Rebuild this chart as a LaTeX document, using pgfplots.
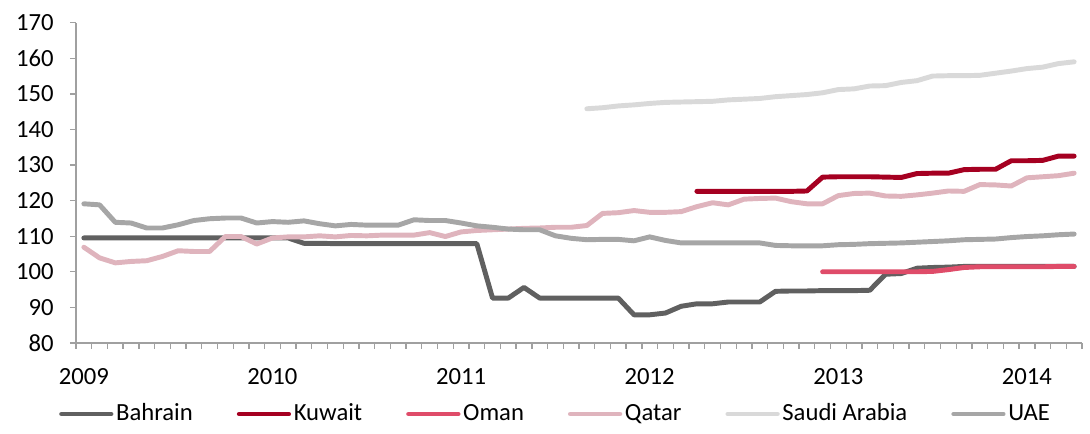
\documentclass[border=0pt]{standalone}
\usepackage{fontspec}
\setmainfont{Carlito}
\usepackage{pgfplots}
\pgfplotsset{compat=1.18}

\definecolor{axisgray}{HTML}{A0A0A0}
\definecolor{cBahrain}{HTML}{606060}
\definecolor{cKuwait}{HTML}{A50021}
\definecolor{cOman}{HTML}{DF4C69}
\definecolor{cQatar}{HTML}{DFB4BD}
\definecolor{cSaudi}{HTML}{D9D9D9}
\definecolor{cUAE}{HTML}{A6A6A6}

\begin{document}
\fontsize{18.5}{22}\selectfont
\begin{tikzpicture}
\path[use as bounding box] (-57pt,-68.25pt) rectangle (760.5pt,257.2pt);
\begin{axis}[
  scale only axis,
  width=754.5pt, height=240.2pt,
  xmin=-0.5, xmax=63.5,
  ymin=80, ymax=170,
  axis x line=bottom, axis y line=left,
  axis line style={-, draw=axisgray, line width=1.2pt},
  ytick={80,90,...,170},
  xtick={-0.5,0.5,...,63.5},
  xticklabels={},
  extra x ticks={0,12,24,36,48,60},
  extra x tick labels={2009,2010,2011,2012,2013,2014},
  extra x tick style={major tick length=0pt, xticklabel style={yshift=-13pt}},
  tick align=outside,
  major tick length=4.5pt,
  tick style={draw=axisgray, line width=1pt},
  /pgf/number format/assume math mode=true,
  yticklabel style={/pgf/number format/1000 sep={}, xshift=-6pt},
  every axis plot/.append style={line width=3.7pt, line cap=round, line join=round},
  legend columns=6,
  legend style={at={(0.477,-0.222)}, anchor=center, draw=none, fill=none,
    /tikz/every odd column/.append style={column sep=0pt},
    /tikz/every even column/.append style={column sep=31pt},
    nodes={inner xsep=2pt}},
  legend image code/.code={\draw[#1] (0pt,0pt) -- (37pt,0pt);},
]

% Bahrain
\addplot[cBahrain] coordinates {
  (0,109.5) (1,109.5) (2,109.5) (3,109.5) (4,109.5) (5,109.5) (6,109.5) (7,109.5)
  (8,109.5) (9,109.5) (10,109.5) (11,109.5) (12,109.5) (13,109.5)
  (14,108.0) (15,108.0) (16,107.9) (17,107.9) (18,107.9) (19,107.9) (20,107.9)
  (21,107.9) (22,107.9) (23,107.9) (24,107.9) (25,107.9)
  (26,92.6) (27,92.6) (28,95.6) (29,92.6) (30,92.6) (31,92.6) (32,92.6) (33,92.6) (34,92.6)
  (35,87.9) (36,87.9) (37,88.4) (38,90.3) (39,91.0) (40,91.0) (41,91.5) (42,91.5) (43,91.5)
  (44,94.5) (45,94.6) (46,94.6) (47,94.7) (48,94.7) (49,94.7) (50,94.8)
  (51,99.3) (52,99.5) (53,101.0) (54,101.2) (55,101.3) (56,101.5) (57,101.5) (58,101.5)
  (59,101.5) (60,101.5) (61,101.5) (62,101.5) (63,101.5)
};
\addlegendentry{Bahrain}

% Kuwait
\addplot[cKuwait] coordinates {
  (39,122.6) (40,122.6) (41,122.6) (42,122.6) (43,122.6) (44,122.6) (45,122.6) (46,122.7)
  (47,126.6) (48,126.7) (49,126.7) (50,126.7) (51,126.6) (52,126.5)
  (53,127.6) (54,127.7) (55,127.7) (56,128.7) (57,128.8) (58,128.8)
  (59,131.2) (60,131.2) (61,131.3) (62,132.5) (63,132.5)
};
\addlegendentry{Kuwait}

% Oman
\addplot[cOman] coordinates {
  (47,100.0) (48,100.0) (49,100.0) (50,100.0) (51,100.0) (52,100.0) (53,100.0) (54,100.1)
  (55,100.6) (56,101.2) (57,101.4) (58,101.4) (59,101.4) (60,101.4) (61,101.4) (62,101.5) (63,101.5)
};
\addlegendentry{Oman}

% Qatar
\addplot[cQatar] coordinates {
  (0,106.9) (1,103.9) (2,102.5) (3,102.9) (4,103.1) (5,104.3) (6,105.9) (7,105.7)
  (8,105.7) (9,109.9) (10,109.9) (11,107.8) (12,109.5) (13,109.8) (14,109.8) (15,110.1)
  (16,109.8) (17,110.2) (18,110.1) (19,110.3) (20,110.3) (21,110.3) (22,111.0) (23,109.9)
  (24,111.2) (25,111.6) (26,111.8) (27,112.0) (28,112.2) (29,112.3) (30,112.5) (31,112.5)
  (32,113.0) (33,116.4) (34,116.6) (35,117.2) (36,116.7) (37,116.7) (38,116.9) (39,118.3)
  (40,119.4) (41,118.8) (42,120.4) (43,120.6) (44,120.7) (45,119.7) (46,119.1) (47,119.1)
  (48,121.4) (49,122.0) (50,122.1) (51,121.3) (52,121.2) (53,121.6) (54,122.1) (55,122.7)
  (56,122.6) (57,124.5) (58,124.4) (59,124.1) (60,126.4) (61,126.7) (62,127.0) (63,127.7)
};
\addlegendentry{Qatar}

% Saudi Arabia
\addplot[cSaudi] coordinates {
  (32,145.8) (33,146.1) (34,146.6) (35,146.9) (36,147.3) (37,147.6) (38,147.7) (39,147.8)
  (40,147.9) (41,148.3) (42,148.5) (43,148.7) (44,149.2) (45,149.5) (46,149.8) (47,150.3)
  (48,151.2) (49,151.4) (50,152.2) (51,152.3) (52,153.2) (53,153.7) (54,155.0) (55,155.1)
  (56,155.1) (57,155.2) (58,155.8) (59,156.4) (60,157.1) (61,157.5) (62,158.5) (63,159.0)
};
\addlegendentry{Saudi Arabia}

% UAE
\addplot[cUAE] coordinates {
  (0,119.1) (1,118.8) (2,113.9) (3,113.7) (4,112.3) (5,112.3) (6,113.2) (7,114.4)
  (8,114.9) (9,115.1) (10,115.1) (11,113.7) (12,114.1) (13,113.9) (14,114.3) (15,113.5)
  (16,112.9) (17,113.3) (18,113.1) (19,113.1) (20,113.1) (21,114.6) (22,114.4) (23,114.4)
  (24,113.7) (25,112.9) (26,112.5) (27,112.0) (28,111.8) (29,111.8) (30,110.1) (31,109.4)
  (32,109.0) (33,109.1) (34,109.1) (35,108.7) (36,109.8) (37,108.8) (38,108.1) (39,108.1)
  (40,108.1) (41,108.1) (42,108.1) (43,108.1) (44,107.4) (45,107.3) (46,107.3) (47,107.3)
  (48,107.6) (49,107.7) (50,107.9) (51,108.0) (52,108.1) (53,108.3) (54,108.5) (55,108.7)
  (56,109.0) (57,109.1) (58,109.2) (59,109.6) (60,109.9) (61,110.1) (62,110.4) (63,110.6)
};
\addlegendentry{UAE}

\end{axis}
\end{tikzpicture}
\end{document}
